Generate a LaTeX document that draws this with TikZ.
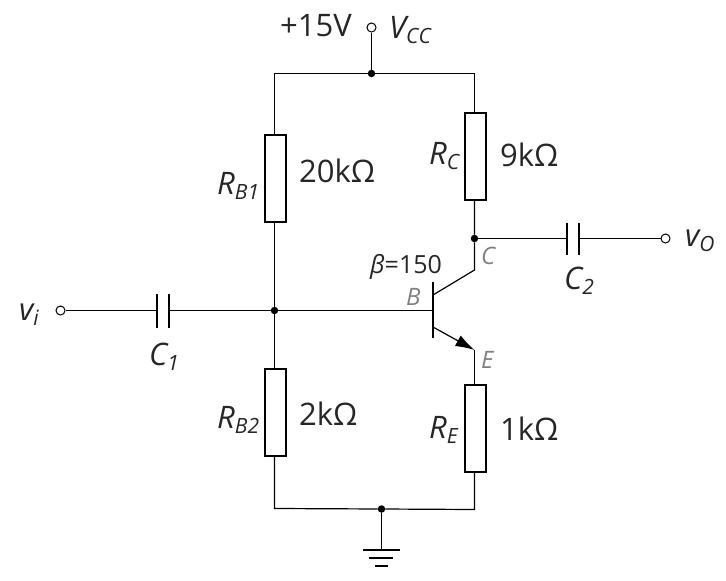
\documentclass[tikz,border=0pt]{standalone}
\usepackage{fontspec}
\setmainfont{Open Sans}
\usetikzlibrary{arrows.meta,calc}
\tikzset{
  wire/.style={line width=1.2pt,black},
  res/.style={draw=black,line width=2pt,fill=white,minimum width=21pt,minimum height=87pt,inner sep=0pt,outer sep=0pt},
  dot/.style={circle,fill=black,inner sep=0pt,minimum size=7.5pt},
  term/.style={circle,draw=black,line width=1pt,fill=white,inner sep=0pt,minimum size=9pt},
  plate/.style={line width=2.2pt,black},
  lab/.style={inner sep=0pt,anchor=base west,font=\fontsize{31}{34}\selectfont,text=black!85},
  var/.style={inner sep=0pt,anchor=base west,font=\fontsize{31}{34}\selectfont\itshape,text=black!85},
  pin/.style={inner sep=0pt,anchor=base west,font=\fontsize{24}{28}\selectfont\itshape,text=black!50},
}
\newcommand{\lowsub}[1]{\raisebox{-5pt}{\fontsize{21}{23}\selectfont #1}}
\begin{document}
\begin{tikzpicture}[x=1pt,y=-1pt]
\useasboundingbox (0,0) rectangle (726,581);
% nodes
\node[term] (vcc) at (371.5,27.5) {};
\node[dot] (top) at (371.5,73.5) {};
\coordinate (tl) at (274.5,73.5);
\coordinate (tr) at (474.5,73.5);
\node[res] (rb1) at (275,178) {};
\node[res] (rb2) at (275,412) {};
\node[res] (rc) at (475,156) {};
\node[res] (re) at (475,428) {};
\node[dot] (bj) at (274.5,310.5) {};
\node[dot] (cj) at (474.5,238.5) {};
\node[dot] (gj) at (381.5,509) {};
\coordinate (bl) at (274.5,508.5);
\coordinate (br) at (474.5,509.5);
\coordinate (gnd) at (381.5,550);
\node[term] (vi) at (60.5,310.5) {};
\node[term] (vo) at (665.5,238.5) {};
\coordinate (c1a) at (157,310.5);
\coordinate (c1b) at (169,310.5);
\coordinate (c2a) at (567,238.5);
\coordinate (c2b) at (579,238.5);
\coordinate (base) at (433,310.5);
\coordinate (cin) at (433,295);
\coordinate (cout) at (474.5,270);
\coordinate (ein) at (433,327);
\coordinate (eout) at (474.5,350);
% wires
\draw[wire] (vcc) -- (top);
\draw[wire] (rb1.north -| tl) -- (tl) -- (tr) -- (rc.north -| tr);
\draw[wire] (rb1.south -| tl) -- (bj) -- (rb2.north -| bl);
\draw[wire] (rb2.south -| bl) -- (bl) -- (gj) -- (br) -- (re.south -| br);
\draw[wire] (rc.south -| cj) -- (cj) -- (cout) -- (cin);
\draw[wire] (vi) -- (c1a);
\draw[wire] (c1b) -- (bj) -- (base);
\draw[wire] (cj) -- (c2a);
\draw[wire] (c2b) -- (vo);
\draw[wire,-{Latex[length=19pt,width=12pt]}] (ein) -- (eout);
\draw[wire] (eout) -- (re.north -| eout);
\draw[wire] (gj) -- (gnd);
% plates
\draw[plate] (433,282) -- (433,338);
\draw[plate] ($(c1a)+(0,-17)$) -- ($(c1a)+(0,17)$);
\draw[plate] ($(c1b)+(0,-17)$) -- ($(c1b)+(0,17)$);
\draw[plate] ($(c2a)+(0,-16)$) -- ($(c2a)+(0,16)$);
\draw[plate] ($(c2b)+(0,-16)$) -- ($(c2b)+(0,16)$);
\draw[plate] (363,550) -- (400,550);
\draw[plate] (369,558) -- (393,558);
\draw[plate] (375,566) -- (388,566);
% labels
\node[lab] (t15) at (280,36) {+15V};
\node[var] (tvcc) at (389,38) {V\lowsub{CC}};
\node[var] (trc) at (429,164) {R\lowsub{C}};
\node[lab] (t9k) at (500,166) {9kΩ};
\node[var] (trb1) at (217,194) {R\lowsub{B1}};
\node[lab] (t20k) at (299,182) {20kΩ};
\node[var] (trb2) at (217,428) {R\lowsub{B2}};
\node[lab] (t2k) at (299,425) {2kΩ};
\node[var] (tre) at (429,438) {R\lowsub{E}};
\node[lab] (t1k) at (500,440) {1kΩ};
\node[var] (tvi) at (19,320) {v\lowsub{i}};
\node[var] (tvo) at (685,246) {v\lowsub{O}};
\node[var] (tc1) at (149,365) {C\lowsub{1}};
\node[var] (tc2) at (564,289) {C\lowsub{2}};
\node[inner sep=0pt,anchor=base west,font=\fontsize{25}{28}\selectfont,text=black!85] (tbeta) at (370,273) {\textit{β}=150};
\node[pin] (pb) at (406,305) {B};
\node[pin] (pc) at (481,264) {C};
\node[pin] (pe) at (481,368) {E};
\end{tikzpicture}
\end{document}
